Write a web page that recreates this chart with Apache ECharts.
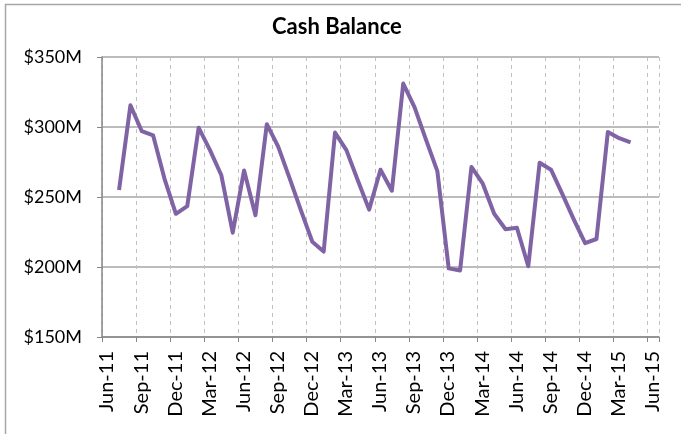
<!DOCTYPE html>
<html>
<head>
<meta charset="utf-8">
<script src="https://cdn.jsdelivr.net/npm/echarts@6/dist/echarts.min.js"></script>
<style>
html,body{margin:0;padding:0;background:#fff;}
#chart{width:681px;height:434px;}
</style>
</head>
<body>
<div id="chart"></div>
<script>
// Months (YYYY-MM) and cash balance in $M
const months = [
  '2011-07','2011-08','2011-09','2011-10','2011-11','2011-12',
  '2012-01','2012-02','2012-03','2012-04','2012-05','2012-06',
  '2012-07','2012-08','2012-09','2012-10','2012-11','2012-12',
  '2013-01','2013-02','2013-03','2013-04','2013-05','2013-06',
  '2013-07','2013-08','2013-09','2013-10','2013-11','2013-12',
  '2014-01','2014-02','2014-03','2014-04','2014-05','2014-06',
  '2014-07','2014-08','2014-09','2014-10','2014-11','2014-12',
  '2015-01','2015-02','2015-03','2015-04'
];
const cashBalance = [
  255, 315.5, 297, 294, 263, 238,
  243.5, 299.5, 283.5, 265.5, 224.5, 269,
  237, 302, 286, 263.5, 240.5, 218,
  211, 296, 283.5, 262, 241, 269.5,
  254.5, 331, 314, 291, 268.5, 199,
  197.5, 271.5, 259.5, 238, 227, 228,
  200.5, 274.5, 269.5, 252, 234, 217,
  220, 296.5, 292, 289
];
const xTickLabels = ['Jun-11','Sep-11','Dec-11','Mar-12','Jun-12','Sep-12','Dec-12','Mar-13','Jun-13','Sep-13','Dec-13','Mar-14','Jun-14','Sep-14','Dec-14','Mar-15','Jun-15'];
const yTicks = [150, 200, 250, 300, 350];
const chartTitle = 'Cash Balance';

// axis origin: June 2011 (month index 0); points sit mid-month
function monthIndex(s){
  const [y, m] = s.split('-').map(Number);
  return (y - 2011) * 12 + (m - 6) + 0.5;
}
const seriesData = months.map((m, i) => [monthIndex(m), cashBalance[i]]);

const font = 'Lato, "Open Sans", sans-serif';
const chart = echarts.init(document.getElementById('chart'));
chart.setOption({
  animation: false,
  backgroundColor: '#fff',
  title: {
    text: chartTitle,
    left: 267, top: 11,
    textStyle: {fontFamily: font, fontSize: 22, fontWeight: 'bold', color: '#000'}
  },
  grid: {left: 102, right: 22, top: 57, bottom: 97, containLabel: false},
  xAxis: {
    type: 'value',
    min: 0, max: 49, interval: 3,
    axisLine: {show: true, onZero: false, lineStyle: {color: '#868686', width: 1.5}},
    axisTick: {show: true, length: 5, lineStyle: {color: '#868686'}},
    splitLine: {show: true, lineStyle: {color: '#c0c0c0', type: [4, 4], width: 1}},
    axisLabel: {
      rotate: 90, margin: 14,
      fontFamily: font, fontSize: 20, color: '#000',
      verticalAlign: 'top', lineHeight: 10,
      formatter: function(v){
        if (v % 3 !== 0) return '';
        const i = v / 3;
        return xTickLabels[i] || '';
      }
    }
  },
  yAxis: {
    type: 'value',
    min: yTicks[0], max: yTicks[yTicks.length - 1], interval: 50,
    axisLine: {show: true, lineStyle: {color: '#868686', width: 1.5}},
    axisTick: {show: true, length: 5, lineStyle: {color: '#868686'}},
    splitLine: {show: true, lineStyle: {color: '#a6a6a6', width: 1.5}},
    axisLabel: {
      margin: 20, fontFamily: font, fontSize: 18, color: '#000',
      formatter: v => '$' + v + 'M'
    }
  },
  graphic: [{
    type: 'polyline',
    shape: {points: [[5.5, 434], [5.5, 4.5], [681, 4.5]]},
    style: {stroke: '#a6a6a6', fill: null, lineWidth: 1.5},
    silent: true
  }],
  series: [{
    type: 'line',
    data: seriesData,
    showSymbol: false,
    symbol: 'none',
    lineStyle: {color: '#7f63a5', width: 4, join: 'round'},
    itemStyle: {color: '#7f63a5'}
  }]
});
</script>
</body>
</html>
